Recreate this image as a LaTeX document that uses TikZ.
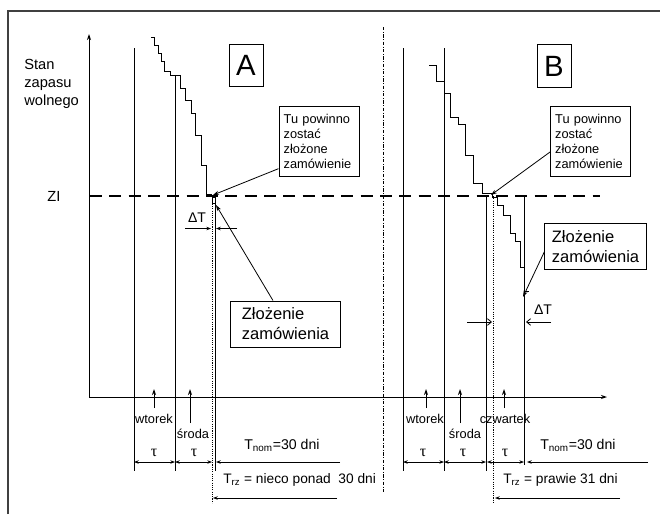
\documentclass[tikz,border=0pt]{standalone}
\usepackage{fontspec}
\setmainfont{Liberation Sans}
\newfontfamily\serifgr{Liberation Serif}
\usetikzlibrary{arrows.meta}
\begin{document}
\begin{tikzpicture}[x=0.75pt,y=-0.75pt,
  ln/.style={line width=0.75pt},
  tipu/.style={ln,-{Stealth[length=4.5pt,width=3pt]}},
  ptr/.style={line width=0.6pt,-{Stealth[length=4.5pt,width=3pt]}},
  dimb/.style={line width=0.6pt,{Stealth[length=3.5pt,width=2.6pt]}-{Stealth[length=3.5pt,width=2.6pt]}},
  dimr/.style={line width=0.6pt,-{Stealth[length=3.5pt,width=2.6pt]}},
  dto/.style={line width=0.6pt,-{Straight Barb[length=3pt,width=5pt]}},
  dotv/.style={line width=0.6pt,dash pattern=on 0.8pt off 0.9pt},
  lettbox/.style={draw,line width=0.75pt,minimum width=25.5pt,minimum height=32pt,inner sep=0pt,font=\fontsize{22}{24}\selectfont},
  tubox/.style={draw,line width=0.75pt,text width=53pt,align=left,inner xsep=3.5pt,minimum height=52pt,font=\fontsize{9.6}{11.2}\selectfont},
  zlbox/.style={draw,line width=0.75pt,align=left,minimum height=34.5pt,font=\fontsize{12.4}{15}\selectfont},
  day/.style={font=\fontsize{9.6}{11}\selectfont,inner sep=0pt},
  taul/.style={font=\serifgr\fontsize{12}{13}\selectfont,inner sep=0pt},
  dtl/.style={font=\fontsize{10.5}{12}\selectfont,inner sep=0pt},
  tn/.style={font=\fontsize{10.6}{12}\selectfont,inner sep=0pt,anchor=base west},
  tr/.style={font=\fontsize{10.3}{12}\selectfont,inner sep=0pt,anchor=base west}
]
\useasboundingbox (0,0) rectangle (660,514);
% frame
\draw[line width=0.9pt,black!75] (8,514) -- (8,11) -- (660,11);
% axes
\coordinate (o) at (89,397);
\coordinate (ytop) at (89,34);
\coordinate (xend) at (607,397);
\draw[tipu] (o) -- (ytop);
\draw[tipu] (o) -- (xend);
% separator
\draw[line width=0.6pt,dash pattern=on 2.5pt off 1.2pt on 0.6pt off 1.2pt] (383,27) -- (383,492);
% ZI line
\coordinate (ziL) at (90,196);
\coordinate (ziR) at (600,196);
\draw[line width=2.2pt,dash pattern=on 9pt off 5.5pt] (ziL) -- (ziR);
% labels left
\node[font=\fontsize{11}{13.5}\selectfont,align=left,anchor=west,inner sep=0pt] (stan) at (24,84) {Stan\\zapasu\\wolnego};
\node[font=\fontsize{11}{13}\selectfont,inner sep=0pt] (zi) at (54,196) {ZI};
% letter boxes
\node[lettbox] (bA) at (246,65.5) {A};
\node[lettbox] (bB) at (554,66) {B};
% ---- panel A verticals
\draw[ln] (134,48) -- (134,471);
\draw[ln] (175,75) -- (175,471);
\draw[ln] (215,197) -- (215,471);
\draw[dotv] (212,197) -- (212,503);
\draw[line width=0.5pt] (212,197) rectangle (215,203);
% staircase A
\draw[ln] (151,37) -| (154,45) -| (158,53) -| (161,61) -| (164,71) -| (170,75) -| (180,88) -| (185,100) -| (191,113) -| (195,135) -| (201,165) -| (206,194) -| (211,197);
% ---- panel B verticals
\draw[ln] (403,48) -- (403,471);
\draw[ln] (444,48) -- (444,471);
\draw[ln] (486,196) -- (486,471);
\draw[ln] (524,196) -- (524,465);
\draw[dotv] (493,196) -- (493,503);
% staircase B
\draw[ln] (429,65) -| (436,81) -| (444,93) -| (450,117) -| (458,124) -| (465,155) -| (473,183) -| (482,193) -| (492,197) -| (497,205) -| (503,215) -| (510,233) -| (515,241) -| (520,267) -| (524,291) -- (529,291);
% ---- Tu powinno boxes
\node[tubox] (tuA) at (319,141.5) {Tu powinno\\zostać\\złożone\\zamówienie};
\node[tubox] (tuB) at (590.5,141.5) {Tu powinno\\zostać\\złożone\\zamówienie};
\coordinate (pA) at (213,195);
\coordinate (pB) at (491,195);
\draw[ptr] ([yshift=6pt]tuA.south west) -- (pA);
\draw[ptr] ([yshift=-7.9pt]tuB.west) -- (pB);
% ---- Złożenie boxes
\node[zlbox,minimum width=82pt,inner xsep=5pt] (zlA) at (285.5,324) {Złożenie\\zamówienia};
\node[zlbox,minimum width=76pt,inner xsep=3.5pt] (zlB) at (595.5,246.5) {Złożenie\\zamówienia};
\coordinate (qA) at (216,205);
\coordinate (qB) at (523,297);
\draw[ptr] ([xshift=-9.4pt]zlA.north) -- (qA);
\draw[ptr] ([yshift=-4pt]zlB.west) -- (qB);
% ---- Delta T
\node[dtl] (dtA) at (197,218) {ΔT};
\draw[dimr] (185,228.5) -- (211,228.5);
\draw[dimr] (237,228.5) -- (216,228.5);
\node[dtl] (dtB) at (543,310) {ΔT};
\draw[dto] (467,322) -- (492,322);
\draw[dto] (551,322) -- (526,322);
% ---- day arrows A
\draw[tipu] (154,408) -- (154,389);
\draw[tipu] (190,423) -- (190,389);
\node[day] (wtA) at (154,419) {wtorek};
\node[day] (srA) at (193,434) {środa};
% ---- day arrows B
\draw[tipu] (426,408) -- (426,389);
\draw[tipu] (460,423) -- (460,389);
\draw[tipu] (504,408) -- (504,389);
\node[day] (wtB) at (425,419) {wtorek};
\node[day] (srB) at (465,434) {środa};
\node[day] (czB) at (505,419) {czwartek};
% ---- dimensions A
\draw[dimb] (134,462) -- (175,462);
\draw[dimb] (175,462) -- (212,462);
\draw[dimr] (340,462) -- (216,462);
\draw[dimr] (337,498) -- (213,498);
\node[taul] (t1A) at (154,453) {τ};
\node[taul] (t2A) at (194,453) {τ};
\node[tn] (tnA) at (244,449) {T\textsubscript{nom}=30 dni};
\node[tr] (trA) at (223,483) {T\textsubscript{rz} = nieco ponad\ \ 30 dni};
% ---- dimensions B
\draw[dimb] (403,462) -- (444,462);
\draw[dimb] (444,462) -- (486,462);
\draw[dimb] (487,462) -- (524,462);
\draw[dimr] (648,462) -- (527,462);
\draw[dimr] (620,498) -- (495,498);
\node[taul] (t1B) at (423,453) {τ};
\node[taul] (t2B) at (463,453) {τ};
\node[taul] (t3B) at (505,453) {τ};
\node[tn] (tnB) at (540,449) {T\textsubscript{nom}=30 dni};
\node[tr] (trB) at (503,483) {T\textsubscript{rz} = prawie 31 dni};
\end{tikzpicture}
\end{document}
